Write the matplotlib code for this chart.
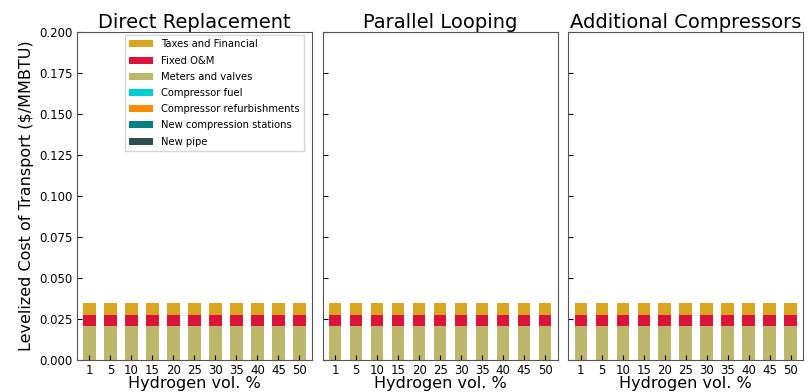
import numpy as np
import matplotlib.pyplot as plt

h2_pct = ['1', '5', '10', '15', '20', '25', '30', '35', '40', '45', '50']
panels = ['Direct Replacement', 'Parallel Looping', 'Additional Compressors']

# cost components, bottom to top ($/MMBTU)
new_pipe = [0.0] * 11
new_comp_stations = [0.0] * 11
comp_refurb = [0.0] * 11
comp_fuel = [0.0] * 11
meters_valves = [0.0207] * 11
fixed_om = [0.0069] * 11
taxes_fin = [0.0070] * 11

components = [
    ('New pipe', new_pipe, 'darkslategray'),
    ('New compression stations', new_comp_stations, 'teal'),
    ('Compressor refurbishments', comp_refurb, 'darkorange'),
    ('Compressor fuel', comp_fuel, 'darkturquoise'),
    ('Meters and valves', meters_valves, 'darkkhaki'),
    ('Fixed O&M', fixed_om, 'crimson'),
    ('Taxes and Financial', taxes_fin, 'goldenrod'),
]

fig, axes = plt.subplots(1, 3, figsize=(8.09, 3.92), dpi=100, sharey=True)
fig.subplots_adjust(left=0.095, right=0.993, top=0.918, bottom=0.082, wspace=0.045)

x = np.arange(len(h2_pct))
for ax, title in zip(axes, panels):
    bottom = np.zeros(len(x))
    for name, vals, col in components:
        ax.bar(x, vals, 0.6, bottom=bottom, color=col, label=name)
        bottom += np.array(vals)
    ax.set_title(title, fontsize=14, pad=3)
    ax.set_xticks(x)
    ax.set_xticklabels(h2_pct, fontsize=9)
    ax.set_xlim(-0.6, 10.6)
    ax.set_ylim(0, 0.2)
    ax.set_xlabel('Hydrogen vol. %', fontsize=11.5, labelpad=-1)
    ax.tick_params(direction='in', labelsize=8.5, pad=3)
    for s in ax.spines.values():
        s.set_color('#555555')

axes[0].set_ylabel('Levelized Cost of Transport ($/MMBTU)', fontsize=11.5)
axes[0].set_yticks(np.arange(0, 0.201, 0.025))
axes[0].set_yticklabels(['%.3f' % v for v in np.arange(0, 0.201, 0.025)])

h, l = axes[0].get_legend_handles_labels()
axes[0].legend(h[::-1], l[::-1], loc='upper right', bbox_to_anchor=(0.965, 0.99),
               fontsize=7.2, handlelength=2.4, fancybox=False, edgecolor='#cccccc',
               borderaxespad=0.0, labelspacing=0.62)

plt.savefig('out.png', dpi=100)
